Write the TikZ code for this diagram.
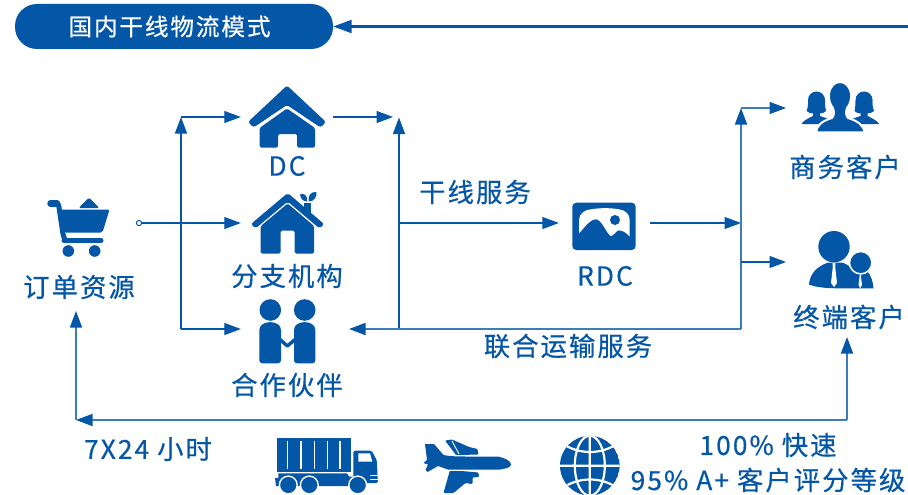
\documentclass[tikz,border=0pt]{standalone}
\usepackage{fontspec}
\setmainfont[LetterSpace=8,FakeBold=0.5]{Noto Sans CJK SC}
\usetikzlibrary{arrows.meta,calc}
\definecolor{mainblue}{HTML}{0456A6}
\definecolor{lightline}{HTML}{3A7CBE}
\tikzset{
  lab/.style={text=mainblue,font=\fontsize{26.3}{30}\selectfont,inner sep=0pt,anchor=center},
  anchorbox/.style={inner sep=0pt,minimum width=#1,minimum height=50pt},
  conn/.style={draw=mainblue,line width=1.2pt},
  connlight/.style={draw=lightline,line width=1.6pt},
  tip/.style={-{Triangle[length=16.5pt,width=12pt,color=mainblue]}},
  bigtip/.style={-{Triangle[length=18.5pt,width=13pt,color=mainblue]}},
}
\newcommand{\womanshape}{(801.3,124) .. controls (804,120) and (810,117.5) .. (813,116) -- (813,113.5) .. controls (811,113.5) and (808,112.5) .. (806.5,111) .. controls (808.3,107) and (808,103) .. (808,100) .. controls (808,95) and (812,91.5) .. (816.5,91.5) .. controls (821,91.5) and (825,95) .. (825,100) .. controls (825,103) and (825,107) .. (826,111) .. controls (825,112.5) and (822,113.5) .. (820,113.5) -- (820,116) .. controls (826,118) and (832,120) .. (836,124) -- cycle}
\begin{document}
\begin{tikzpicture}[x=1pt,y=-1pt]
\useasboundingbox (0,0) rectangle (908,495);
\fill[white] (0,0) rectangle (908,495);

% ---- title
\node[fill=mainblue,rounded corners=22pt,minimum width=318pt,minimum height=45pt,inner sep=0pt] (title) at (174,26.5) {};
\node[text=white,inner sep=0pt,font=\fontsize{23.6}{26}\selectfont] (titletext) at (169.5,26.5) {国内干线物流模式};
\coordinate (topright) at (908,26.5);
\draw[conn,bigtip,line width=2.2pt] (topright) -- (title.east);

% ---- anchor nodes for the icons
\node[anchorbox=88pt] (cart) at (79,229) {};
\node[anchorbox=92pt] (dc) at (287,117) {};
\node[anchorbox=92pt] (branch) at (287,223) {};
\node[anchorbox=92pt] (partner) at (287,329) {};
\node[anchorbox=91pt] (rdc) at (604.5,223) {};
\node[anchorbox=90pt] (biz) at (840,108) {};
\node[anchorbox=90pt] (endc) at (840,262) {};

% ---- labels
\node[lab] (lcart) at (79,287) {订单资源};
\node[lab] (ldc) at (287,166) {DC};
\node[lab] (lbranch) at (287,276) {分支机构};
\node[lab] (lpartner) at (287,385) {合作伙伴};
\node[lab] (ltrunk) at (475,192) {干线服务};
\node[lab] (lrdc) at (605,276) {RDC};
\node[lab] (lbiz) at (845,167) {商务客户};
\node[lab] (lend) at (849,317) {终端客户};
\node[lab] (ljoint) at (568,346) {联合运输服务};
\node[lab] (l724) at (148,449) {7X24 小时};
\node[lab] (l100) at (768,445) {100\% 快速};
\node[lab] (l95) at (768,480) {95\% A+ 客户评分等级};

% ---- junctions
\coordinate (startdot) at (139,223);
\coordinate (lefttop) at (181,117);
\coordinate (leftbot) at (181,329);
\coordinate (midtop) at (399,117.5);
\coordinate (midbot) at (399,329);
\coordinate (midtrunk) at (400,223);
\coordinate (dcout) at (393,117);
\coordinate (pin) at (349,329);
\coordinate (rbus) at (741,223);
\coordinate (rtop) at (741,108);
\coordinate (rmid) at (741,262);
\coordinate (rbot) at (741,329);
\coordinate (bizin) at (786,108);
\coordinate (endin2) at (786,262);
\coordinate (bl) at (76,420);
\coordinate (br) at (847,420);
\coordinate (cartin) at (76,311);
\coordinate (endin) at (847,337);

% ---- connectors
\draw[conn,tip] (startdot) -- (branch.west);
\draw[conn,fill=white,line width=1pt] (startdot) circle[radius=2.6pt];
\draw[conn,tip] (leftbot) -- (lefttop);
\draw[conn,tip] (lefttop) -- (dc.west);
\draw[conn,tip] (leftbot) -- (partner.west);
\draw[conn,tip] (dc.east) -- (dcout);
\draw[conn,tip] (midbot) -- (midtop);
\draw[conn,tip] (midtrunk) -- (rdc.west);
\draw[conn,tip] (rdc.east) -- (rbus);
\draw[connlight,tip] (rbot) -- (rtop);
\draw[connlight,tip] (rtop) -- (bizin);
\draw[conn,tip] (rmid) -- (endin2);
\draw[connlight,tip] (rbot) -- (pin);
\draw[connlight,tip] (br) -- (endin);
\draw[connlight,tip] (br) -- (bl);
\draw[connlight,tip] (bl) -- (cartin);

% ---- cart icon
\draw[mainblue,line width=6.5pt,line cap=round,line join=round] (50.5,203.5) -- (57,203.5);
\draw[mainblue,line width=5pt,line join=round] (58.5,204) -- (63,234) -- (65,240.5);
\draw[mainblue,line width=5pt,line cap=round] (64,240.5) -- (101,240.5);
\fill[mainblue,rounded corners=2pt] (60,209.5) -- (109.5,209.5) -- (102.5,232.5) -- (64,232.5) -- cycle;
\fill[mainblue,rounded corners=1.5pt] (78.5,208) -- (89,197.5) -- (99.5,208) -- cycle;
\fill[mainblue] (68.3,251) circle[radius=5.8pt] (94.7,251) circle[radius=5.8pt];

% ---- DC house
\fill[mainblue,rounded corners=2.5pt] (248,122) -- (287,85.5) -- (326,122) -- (320.5,127.5) -- (287,105) -- (253.5,127.5) -- cycle;
\fill[mainblue,rounded corners=1.5pt] (259.5,128) -- (287,108.5) -- (315,128) -- (315,147.5) -- (297,147.5) -- (297,134) -- (278,134) -- (278,147.5) -- (259.5,147.5) -- cycle;

% ---- branch house
\fill[mainblue] (304,202.5) rectangle (311,214);
\fill[mainblue,rounded corners=2pt] (251,224) -- (287.7,193) -- (324,224) -- (319.5,228.5) -- (287.7,201.5) -- (255.5,228.5) -- cycle;
\fill[mainblue,rounded corners=1.5pt] (260.7,226) -- (287.7,203.5) -- (314,226) -- (314,253.5) -- (294.5,253.5) -- (294.5,230.5) -- (280.5,230.5) -- (280.5,253.5) -- (260.7,253.5) -- cycle;
\fill[mainblue] (300,194.5) .. controls (303,192.5) and (308,195) .. (307.3,201.5) .. controls (303,201.5) and (300.5,198.5) .. (300,194.5) -- cycle;
\fill[mainblue] (316.5,192) .. controls (311,191.5) and (307.5,195.5) .. (308.8,201.5) .. controls (314,201.5) and (317,197) .. (316.5,192) -- cycle;

% ---- partner icon
\fill[mainblue] (270.3,310) circle[radius=10.8pt] (304.7,310) circle[radius=10.8pt];
\fill[mainblue,rounded corners=3pt] (259.3,363.3) -- (259.3,333) .. controls (259.3,319.5) and (281,319.5) .. (281,333) -- (281,363.3) -- cycle;
\fill[mainblue,rounded corners=3pt] (294,363.3) -- (294,333) .. controls (294,319.5) and (315.4,319.5) .. (315.4,333) -- (315.4,363.3) -- cycle;
\draw[mainblue,line width=3.4pt,line join=round] (280,339.5) -- (287.3,346) -- (295,339.5);

% ---- RDC icon
\fill[mainblue,rounded corners=4pt] (572.3,202.7) rectangle (635.7,250);
\fill[white] (579,233.3) -- (579,220) .. controls (579,213) and (586,209.5) .. (591,209.3) .. controls (600,207.8) and (610,207.8) .. (619,209.3) .. controls (625,210) and (629.7,214) .. (629.7,220) -- (629.7,236.7) .. controls (626,232) and (621,229.5) .. (617.3,230.7) .. controls (615,232.5) and (613,236) .. (610.7,236) .. controls (606,233) and (602,219.3) .. (595.7,219.3) .. controls (590,219.3) and (584,228) .. (579,233.3) -- cycle;
\fill[mainblue] (615,220) circle[radius=5pt];

% ---- business customers
\fill[mainblue] \womanshape;
\begin{scope}[shift={(1680.5,0)},xscale=-1]
\fill[mainblue] \womanshape;
\end{scope}
\draw[white,line width=2pt,fill=mainblue] (816,132.3) .. controls (817,125) and (822,121) .. (832,118) .. controls (834,116) and (834.5,112) .. (833,108) .. controls (830,104) and (828.5,100) .. (829,94) .. controls (830,86) and (835,82) .. (840,82) .. controls (845,82) and (850,86) .. (851,94) .. controls (851.5,100) and (850,104) .. (847,108) .. controls (845.5,112) and (846,116) .. (848,118) .. controls (858,121) and (863,125) .. (864.7,132.3) -- cycle;

% ---- end customers
\fill[mainblue] (809,284.5) .. controls (810,274) and (816,267) .. (828,262.5) -- (842,262.5) .. controls (847,264) and (851,267) .. (853,271) -- (867,271) .. controls (871,275) and (873,282) .. (873.5,288.3) -- (838,288.3) .. controls (825,288.3) and (815,287) .. (809,284.5) -- cycle;
\draw[white,line width=1.5pt,fill=mainblue] (860.7,262.7) circle[radius=11.2pt];
\fill[mainblue] (834,246.7) circle[radius=15.7pt];
\fill[white] (832.5,263) -- (835.5,263) -- (835.2,267) -- (837,283) -- (834,287) -- (831,283) -- (832.8,267) -- cycle;
\fill[white] (859.5,274.5) -- (861,274.5) -- (861,277) -- (862,285) -- (860.2,288.3) -- (858.5,285) -- (859.5,277) -- cycle;

% ---- truck
\fill[mainblue] (276.7,438.3) rectangle (351,471.7);
\foreach \sx in {287.7,301,314.3,327.3,340}{\fill[white] (\sx-0.7,441) rectangle (\sx+0.7,469.3);}
\fill[mainblue,rounded corners=1.5pt] (353.3,471.7) -- (353.3,450.7) -- (371.7,450.7) -- (376.7,460) -- (378,483) -- (353.3,483) -- cycle;
\fill[white] (358.3,453.3) -- (370,453.3) -- (372.3,461.7) -- (358.3,461.7) -- cycle;
\fill[mainblue] (278.3,473.3) -- (347,473.3) -- (349,476.5) -- (356,476.5) -- (356,486) -- (276,486) -- (275,478) -- (278.3,478) -- cycle;
\draw[white,line width=0.8pt] (370,475) -- (378,475) (370,479) -- (378,479);
\foreach \wx in {288.3,309.3,357.7}{\draw[white,line width=1.4pt,fill=mainblue] (\wx,485) circle[radius=8.9pt];}

% ---- plane
\fill[mainblue,rounded corners=1pt] (445,440.5) -- (452,439.5) -- (469,447) -- (477.5,449) -- (478.5,454.5) -- (460,455) -- (456,455) -- cycle;
\fill[mainblue,rounded corners=1pt] (450,470) -- (478.5,472.5) -- (479,477) -- (472.5,477.5) -- (472.5,484) -- (465.5,483) -- (453.5,493) -- (443.5,493) -- cycle;
\fill[mainblue] (425,444) -- (434,444) -- (443.5,455) .. controls (450,456.5) and (460,456.5) .. (468,456.5) -- (498,456.5) .. controls (505,458) and (511,461) .. (511,464.5) .. controls (511,467) and (507,468.5) .. (500,469.5) -- (448,469.5) -- (438,466) -- (427.5,472) -- (425.5,470) -- (428,464.5) -- (423.5,463) -- (427,460) -- cycle;
\draw[white,line width=0.9pt] (450,470) -- (480,470);
\draw[white,line width=0.9pt] (452,441) -- (459,454);

% ---- globe
\begin{scope}
\clip (589.8,465.7) circle[radius=29.8pt];
\fill[mainblue] (589.8,465.7) circle[radius=29.8pt];
\draw[white,line width=2.2pt]
  (589.8,430) -- (589.8,500)
  (555,465.7) -- (625,465.7)
  (589.8,465.7) ellipse[x radius=15pt,y radius=30pt]
  (562,443) .. controls (578,455) and (602,455) .. (618,443)
  (562,488.5) .. controls (578,476.5) and (602,476.5) .. (618,488.5);
\end{scope}
\end{tikzpicture}
\end{document}
